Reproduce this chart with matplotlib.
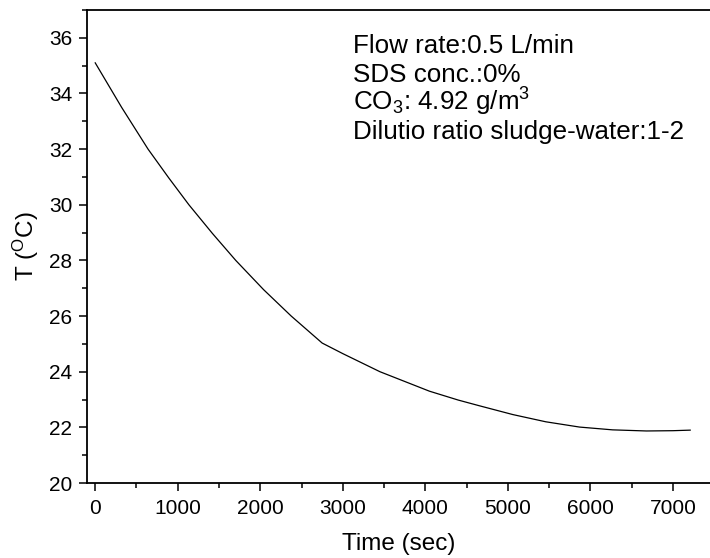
import numpy as np
import matplotlib
matplotlib.use("Agg")
import matplotlib.pyplot as plt
from matplotlib.ticker import MultipleLocator

plt.rcParams['font.family'] = ['Liberation Sans', 'DejaVu Sans']
plt.rcParams['mathtext.default'] = 'regular'

time_s = [0, 320, 640, 890, 1135, 1420, 1703, 2040, 2375, 2750, 3000, 3450,
          4050, 4400, 4650, 5060, 5460, 5870, 6270, 6680, 7000, 7210]
temp_c = [35.1, 33.5, 32.0, 30.97, 30.0, 28.97, 28.0, 26.95, 26.0, 25.03, 24.65, 24.0,
          23.3, 22.98, 22.78, 22.46, 22.2, 22.01, 21.91, 21.87, 21.88, 21.9]

notes = ["Flow rate:0.5 L/min", "SDS conc.:0%", "CO$_3$: 4.92 g/m$^3$",
         "Dilutio ratio sludge-water:1-2"]

fig = plt.figure(figsize=(7.1, 5.58), dpi=100)
ax = fig.add_axes([0.1225, 0.1344, 0.8775, 0.8477])

ax.plot(time_s, temp_c, color='black', lw=0.9)

ax.set_xlim(-100, 7450)
ax.set_ylim(20, 37)
ax.xaxis.set_major_locator(MultipleLocator(1000))
ax.xaxis.set_minor_locator(MultipleLocator(500))
ax.yaxis.set_major_locator(MultipleLocator(2))
ax.yaxis.set_minor_locator(MultipleLocator(1))
ax.tick_params(which='major', length=6, width=1.1, labelsize=15, direction='out')
ax.tick_params(which='minor', length=3.5, width=1.1, direction='out')
ax.tick_params(axis='x', pad=5.5)
ax.tick_params(axis='y', pad=4.5)
ax.spines['right'].set_visible(False)
for s in ['left', 'bottom', 'top']:
    ax.spines[s].set_linewidth(1.3)

ax.set_xlabel('Time (sec)', fontsize=17.5, labelpad=11)
ax.set_ylabel('T ($^{O}$C)', fontsize=17.5, labelpad=6)

for i, line in enumerate(notes):
    fig.text(353 / 710, 1 - (53 + i * 28.6) / 558, line, fontsize=18.7,
             va='baseline', ha='left')

fig.savefig('out.png', dpi=100)
